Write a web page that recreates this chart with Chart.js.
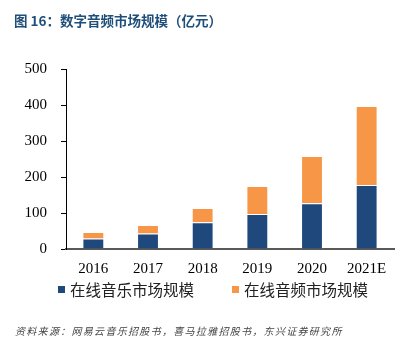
<!DOCTYPE html>
<html lang="zh">
<head>
<meta charset="UTF-8">
<script src="https://cdn.jsdelivr.net/npm/chart.js"></script>
<title>数字音频市场规模</title>
<style>
  * { margin: 0; padding: 0; box-sizing: border-box; }
  body { width: 407px; height: 342px; background: #fff; position: relative; overflow: hidden; }
  .title {
    position: absolute; left: 14px; top: 10px;
    font-family: 'Noto Sans CJK SC', sans-serif; font-weight: bold;
    font-size: 13.5px; line-height: 20px; color: #1F4E79;
  }
  .chartBox { position: absolute; left: 0; top: 0; width: 407px; height: 342px; }
  .legend {
    position: absolute; left: 58px; top: 279px;
    display: flex; flex-direction: row; align-items: center; gap: 38px;
    font-family: 'Noto Sans CJK SC', sans-serif; font-size: 15.5px; line-height: 20px; color: #222;
  }
  .label { display: flex; flex-direction: row; align-items: center; }
  .box { width: 7px; height: 7px; margin-right: 5px; }
  .source {
    position: absolute; left: 15px; top: 324px;
    font-family: 'Noto Sans CJK SC', sans-serif; font-style: italic;
    font-size: 10px; line-height: 14px; letter-spacing: 1.3px; color: #444;
  }
</style>
</head>
<body>
<div class="chartBox"><canvas id="myChart"></canvas></div>
<div class="title">图 16：数字音频市场规模（亿元）</div>
<div class="legend" id="legend"></div>
<div class="source">资料来源：网易云音乐招股书，喜马拉雅招股书，东兴证券研究所</div>

<script>
// data
const years = ['2016', '2017', '2018', '2019', '2020', '2021E'];
const musicMarket = [29, 43, 74, 97, 127, 178];
const audioMarket = [18, 24, 40, 78, 131, 219];
const yTicks = [0, 100, 200, 300, 400, 500];

const serif = "'Liberation Serif', 'Times New Roman', serif";

const config = {
  type: 'bar',
  data: {
    labels: years,
    datasets: [
      {
        label: '在线音乐市场规模',
        data: musicMarket,
        backgroundColor: '#1F497D',
        borderColor: 'rgba(255,255,255,0.35)',
        borderWidth: 1,
        barPercentage: 0.5,
        categoryPercentage: 0.8
      },
      {
        label: '在线音频市场规模',
        data: audioMarket,
        backgroundColor: '#F79646',
        borderColor: 'rgba(255,255,255,0.35)',
        borderWidth: 1,
        barPercentage: 0.5,
        categoryPercentage: 0.8
      }
    ]
  },
  options: {
    responsive: true,
    maintainAspectRatio: false,
    animation: false,
    layout: { padding: { top: 69, right: 13, left: 0, bottom: 53 } },
    plugins: {
      legend: { display: false },
      tooltip: { enabled: false }
    },
    scales: {
      x: {
        stacked: true,
        grid: { display: true, drawOnChartArea: false, drawTicks: false },
        border: { display: true, color: '#595959', width: 2 },
        ticks: { color: '#000', padding: 11, font: { family: serif, size: 15 } }
      },
      y: {
        stacked: true,
        min: 0,
        max: 500,
        afterFit(scale) { scale.width = 66; },
        afterBuildTicks(scale) { scale.ticks = yTicks.map(v => ({ value: v })); },
        grid: { display: true, drawOnChartArea: false, drawTicks: true, tickLength: 5, color: '#000' },
        border: { display: true, color: '#000', width: 1 },
        ticks: { color: '#000', padding: 14, font: { family: serif, size: 15 } }
      }
    }
  }
};

const myChart = new Chart(document.getElementById('myChart'), config);

// legend built from the chart's datasets
const legendEl = document.getElementById('legend');
myChart.data.datasets.forEach(ds => {
  const item = document.createElement('div');
  item.className = 'label';
  const box = document.createElement('div');
  box.className = 'box';
  box.style.background = ds.backgroundColor;
  const text = document.createElement('div');
  text.textContent = ds.label;
  item.appendChild(box);
  item.appendChild(text);
  legendEl.appendChild(item);
});
</script>
</body>
</html>
